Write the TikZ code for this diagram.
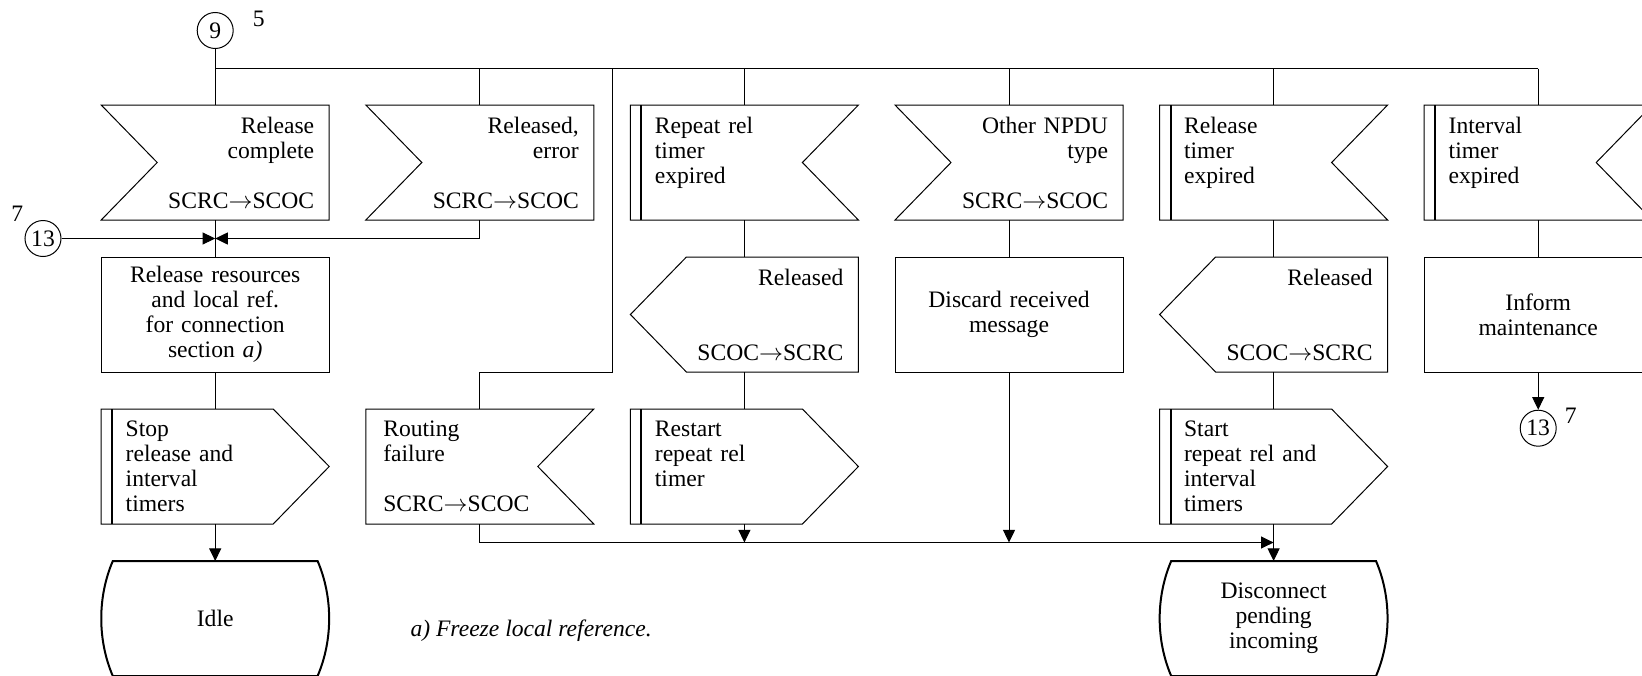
\documentclass[tikz,border=0pt]{standalone}
\usepackage{fontspec}
\setmainfont{Liberation Serif}
\usetikzlibrary{matrix,positioning,arrows.meta,calc}

\begin{document}
\begin{tikzpicture}[x=0.5pt,y=-0.5pt,line width=0.5pt,font=\fontsize{11.8}{12.5}\selectfont]
\tikzset{
  box/.style={anchor=center,minimum width=113.5pt,minimum height=57pt,inner sep=0pt,text width=99pt},
  sigr/.style={align=right},
  sigl/.style={align=left,text width=96.5pt},
  timer/.style={align=left,text width=89.5pt},
  task/.style={align=center},
  conn/.style={circle,draw,minimum size=18pt,inner sep=0pt},
  arr/.style={-{Triangle[length=6.3pt,width=6pt]}}
}
\useasboundingbox (0,0) rectangle (1642,675);
\matrix (sdl) [matrix of nodes, nodes={box}, column sep=18.8pt, row sep=19pt, inner sep=0pt, anchor=north west] at (101.2,105) {
|[sigr]| {Release\\complete\\\mbox{}\\SCRC$\rightarrow$SCOC} &
|[sigr]| {Released,\\error\\\mbox{}\\SCRC$\rightarrow$SCOC} &
|[timer]| {Repeat rel\\timer\\expired\\\mbox{}} &
|[sigr]| {Other NPDU\\type\\\mbox{}\\SCRC$\rightarrow$SCOC} &
|[timer]| {Release\\timer\\expired\\\mbox{}} &
|[timer]| {Interval\\timer\\expired\\\mbox{}} \\
|[task]| {Release resources\\and local ref.\\for connection\\section \textit{a)}} & &
|[sigr]| {Released\\\mbox{}\\\mbox{}\\SCOC$\rightarrow$SCRC} &
|[task]| {Discard received\\message} &
|[sigr]| {Released\\\mbox{}\\\mbox{}\\SCOC$\rightarrow$SCRC} &
|[task]| {Inform\\maintenance} \\
|[timer]| {Stop\\release and\\interval\\timers} &
|[sigl]| {Routing\\failure\\\mbox{}\\SCRC$\rightarrow$SCOC} &
|[timer]| {Restart\\repeat rel\\timer\\\mbox{}} & &
|[timer]| {Start\\repeat rel and\\interval\\timers} & \\
|[task]| {Idle} & & & & |[task]| {Disconnect\\pending\\incoming} & \\
};

% signal inputs
\foreach \nd in {sdl-1-1,sdl-1-2,sdl-1-4}
  \draw (\nd.north west) -- (\nd.north east) -- (\nd.south east) -- (\nd.south west) -- ([xshift=28pt]\nd.west) -- cycle;
\foreach \nd in {sdl-1-3,sdl-1-5,sdl-1-6,sdl-3-2}
  \draw (\nd.north west) -- (\nd.north east) -- ([xshift=-28pt]\nd.east) -- (\nd.south east) -- (\nd.south west) -- cycle;
% signal outputs
\foreach \nd in {sdl-2-3,sdl-2-5}
  \draw ([xshift=28pt]\nd.north west) -- (\nd.north east) -- (\nd.south east) -- ([xshift=28pt]\nd.south west) -- (\nd.west) -- cycle;
\foreach \nd in {sdl-3-1,sdl-3-3,sdl-3-5}
  \draw (\nd.north west) -- ([xshift=-28pt]\nd.north east) -- (\nd.east) -- ([xshift=-28pt]\nd.south east) -- (\nd.south west) -- cycle;
% timer bars
\foreach \nd in {sdl-1-3,sdl-1-5,sdl-1-6,sdl-3-1,sdl-3-3,sdl-3-5}
  \draw[line width=1pt] ([xshift=5.5pt]\nd.north west) -- ([xshift=5.5pt]\nd.south west);
% tasks and states
\foreach \nd in {sdl-2-1,sdl-2-4,sdl-2-6}
  \draw (\nd.north west) rectangle (\nd.south east);
\foreach \nd in {sdl-4-1,sdl-4-5}
  \draw[line width=1pt] ([xshift=5.8pt]\nd.north west) -- ([xshift=-5.8pt]\nd.north east)
    .. controls ([xshift=1.9pt,yshift=-18pt]\nd.north east) and ([xshift=1.9pt,yshift=18pt]\nd.south east) .. ([xshift=-5.8pt]\nd.south east)
    -- ([xshift=5.8pt]\nd.south west)
    .. controls ([xshift=-1.9pt,yshift=18pt]\nd.south west) and ([xshift=-1.9pt,yshift=-18pt]\nd.north west) .. cycle;

% connectors
\coordinate (bus) at (0,68.5);
\coordinate (b1) at (sdl-1-1 |- bus);
\node[conn, above=9.75pt of b1] (c9) {9};
\node (n5) at ([xshift=21.8pt,yshift=6pt]c9.center) {5};
\coordinate (mg) at ($(sdl-1-1.south)!0.5!(sdl-2-1.north)$);
\coordinate (mgl) at (sdl-1-1.west |- mg);
\node[conn, left=19.85pt of mgl] (c13a) {13};
\node (n7a) at ([xshift=-12.85pt,yshift=12.15pt]c13a.center) {7};
\node[conn, below=18.85pt of sdl-2-6] (c13b) {13};
\node (n7b) at ([xshift=16.25pt,yshift=6pt]c13b.center) {7};
\coordinate (rj) at ($(sdl-1-2.east)!0.5!(sdl-1-3.west)$);
\coordinate (low) at ($(sdl-3-1.south)!0.5!(sdl-4-1.north)$);

\draw (c9) -- (sdl-1-1);
\draw (b1) -- (sdl-1-6 |- bus);
\foreach \c in {2,...,6} \draw (sdl-1-\c |- bus) -- (sdl-1-\c);
\draw (rj |- bus) -- (rj |- sdl-2-3.south) -| (sdl-3-2);

\draw (sdl-1-1) -- (sdl-2-1) -- (sdl-3-1);
\draw[arr] (c13a) -- (mg);
\draw[arr] (sdl-1-2) |- (mg);
\draw[arr] (sdl-3-1) -- (sdl-4-1);
\draw (sdl-1-3) -- (sdl-2-3) -- (sdl-3-3);
\draw (sdl-1-4) -- (sdl-2-4);
\draw (sdl-1-5) -- (sdl-2-5) -- (sdl-3-5);
\draw (sdl-1-6) -- (sdl-2-6);
\draw[arr] (sdl-2-6) -- (c13b);

\draw[arr] (sdl-3-2) |- (sdl-3-5 |- low);
\draw[arr] (sdl-3-3) -- (sdl-3-3 |- low);
\draw[arr] (sdl-2-4) -- (sdl-2-4 |- low);
\draw[arr] (sdl-3-5) -- (sdl-4-5);

\node[anchor=west, inner sep=0pt, font=\fontsize{11.8}{12.5}\selectfont\itshape] (note) at ([xshift=40.4pt,yshift=-6pt]sdl-4-1.east) {a) Freeze local reference.};
\end{tikzpicture}
\end{document}
